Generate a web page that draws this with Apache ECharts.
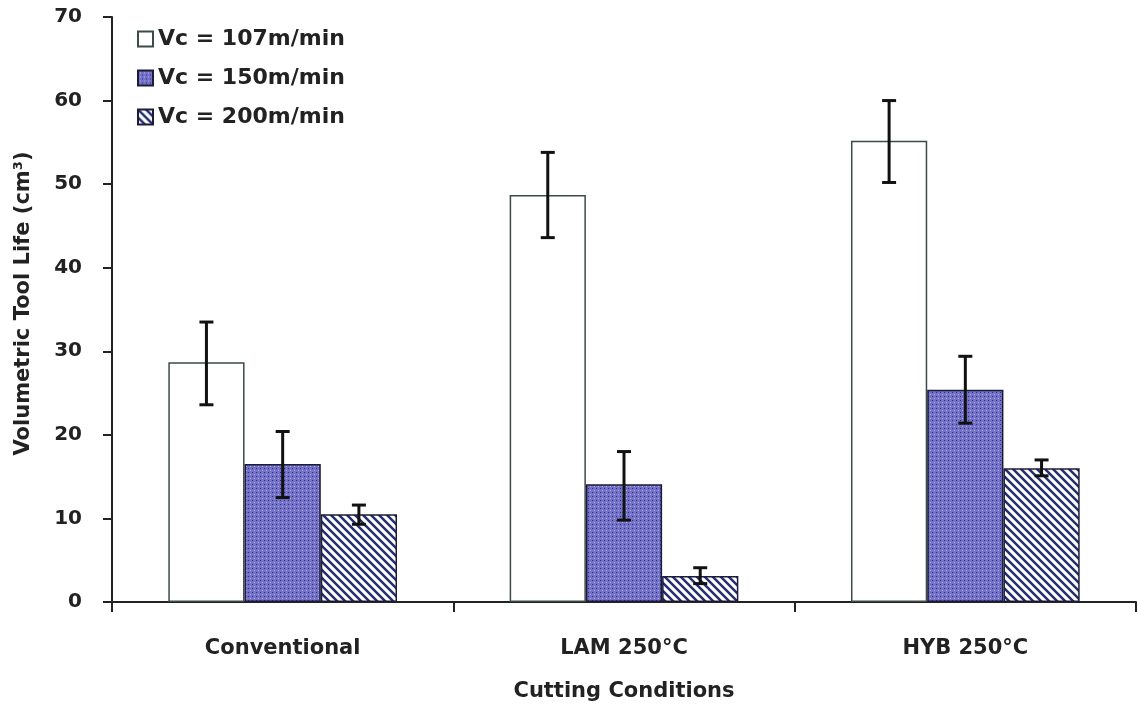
<!DOCTYPE html>
<html>
<head>
<meta charset="utf-8">
<script src="https://cdn.jsdelivr.net/npm/echarts@6/dist/echarts.min.js"></script>
<style>html,body{margin:0;padding:0;background:#fff}#c{width:1139px;height:708px}</style>
</head>
<body>
<div id="c"></div>
<script>
var categories = ['Conventional', 'LAM 250°C', 'HYB 250°C'];
var seriesNames = ['Vc = 107m/min', 'Vc = 150m/min', 'Vc = 200m/min'];
var v107 = [28.7, 48.7, 55.2];
var v150 = [16.5, 14.1, 25.4];
var v200 = [10.5, 3.1, 16.0];
var err107 = [[23.6, 33.5], [43.6, 53.8], [50.2, 60.0]];
var err150 = [[12.5, 20.4], [9.8, 18.0], [21.4, 29.4]];
var err200 = [[9.3, 11.6], [2.2, 4.1], [15.1, 17.0]];

var FONT = '"DejaVu Sans", "Liberation Sans", Arial';

function makeDots() {
  var c = document.createElement('canvas'); c.width = 4; c.height = 4;
  var g = c.getContext('2d');
  g.fillStyle = '#7272c6'; g.fillRect(0, 0, 4, 4);
  g.fillStyle = '#2c2c8c'; g.fillRect(0, 0, 1, 1);
  g.fillStyle = '#c9a6de'; g.fillRect(2, 2, 1, 1);
  return c;
}
function makeHatch() {
  var c = document.createElement('canvas'); c.width = 8; c.height = 8;
  var g = c.getContext('2d');
  g.fillStyle = '#ffffff'; g.fillRect(0, 0, 8, 8);
  g.strokeStyle = '#26306e'; g.lineWidth = 2.5;
  g.beginPath();
  g.moveTo(-2, -2); g.lineTo(10, 10);
  g.moveTo(-2, 6); g.lineTo(2, 10);
  g.moveTo(6, -2); g.lineTo(10, 2);
  g.stroke();
  return c;
}
var dotPattern = { image: makeDots(), repeat: 'repeat' };
var hatchPattern = { image: makeHatch(), repeat: 'repeat' };

var chart = echarts.init(document.getElementById('c'));
var errSets = [err107, err150, err200];
var gapRatio = 0.33;

function errRender(si) {
  return function (params, api) {
    var ci = api.value(0);
    var lo = api.coord([ci, api.value(1)]);
    var hi = api.coord([ci, api.value(2)]);
    var cw = api.size([1, 0])[0];
    var bw = cw * (1 - gapRatio) / 3;
    var x = lo[0] + (si - 1) * bw;
    var cap = 7;
    var st = { stroke: '#111', lineWidth: 3 };
    return {
      type: 'group',
      children: [
        { type: 'line', shape: { x1: x, y1: lo[1], x2: x, y2: hi[1] }, style: st },
        { type: 'line', shape: { x1: x - cap, y1: lo[1], x2: x + cap, y2: lo[1] }, style: st },
        { type: 'line', shape: { x1: x - cap, y1: hi[1], x2: x + cap, y2: hi[1] }, style: st }
      ]
    };
  };
}

var colors = ['#ffffff', dotPattern, hatchPattern];
var vals = [v107, v150, v200];
var series = [];
for (var i = 0; i < 3; i++) {
  series.push({
    name: seriesNames[i], type: 'bar', data: vals[i],
    barGap: '0%', barCategoryGap: '33%',
    itemStyle: { color: colors[i], borderColor: i === 0 ? '#3d4a4a' : '#1c1c3a', borderWidth: 1.5 },
    silent: true
  });
}
for (var j = 0; j < 3; j++) {
  series.push({
    type: 'custom', renderItem: errRender(j), z: 10, silent: true,
    data: errSets[j].map(function (e, k) { return [k, e[0], e[1]]; })
  });
}

chart.setOption({
  animation: false,
  grid: { left: 112, top: 17, right: 3, bottom: 106, outerBoundsMode: 'none', containLabel: false },
  legend: {
    orient: 'vertical', left: 132, top: 23, itemGap: 17,
    itemWidth: 15, itemHeight: 15, icon: 'rect',
    data: seriesNames,
    textStyle: { fontFamily: FONT, fontWeight: 'bold', fontSize: 22, color: '#222' }
  },
  xAxis: {
    type: 'category', data: categories,
    name: 'Cutting Conditions', nameLocation: 'middle', nameGap: 79,
    nameTextStyle: { fontFamily: FONT, fontWeight: 'bold', fontSize: 21, color: '#222' },
    axisLine: { lineStyle: { color: '#222', width: 2 } },
    axisTick: { show: true, length: 10, lineStyle: { color: '#222', width: 2 } },
    axisLabel: { fontFamily: FONT, fontWeight: 'bold', fontSize: 21, color: '#222', margin: 36 }
  },
  yAxis: {
    type: 'value', min: 0, max: 70, interval: 10,
    name: 'Volumetric Tool Life (cm³)', nameLocation: 'middle', nameGap: 78,
    nameTextStyle: { fontFamily: FONT, fontWeight: 'bold', fontSize: 21, color: '#222', padding: [0, 0, 0, 12] },
    axisLine: { show: true, lineStyle: { color: '#222', width: 2 } },
    axisTick: { show: true, length: 9, lineStyle: { color: '#222', width: 2 } },
    splitLine: { show: false },
    axisLabel: { fontFamily: FONT, fontWeight: 'bold', fontSize: 20, color: '#222', margin: 30 }
  },
  series: series
});
</script>
</body>
</html>
